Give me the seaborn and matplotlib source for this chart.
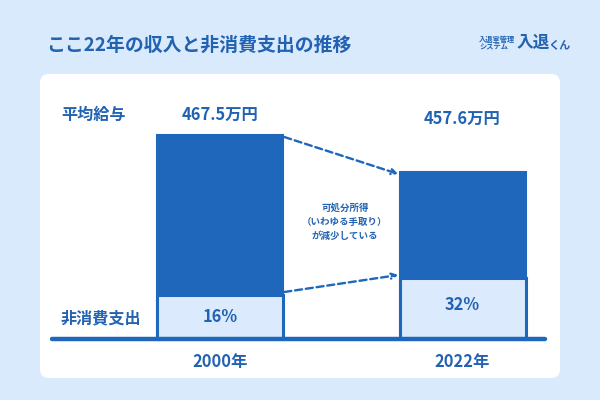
import matplotlib
matplotlib.use("Agg")
import matplotlib.pyplot as plt
from matplotlib.patches import FancyBboxPatch
import seaborn as sns
import pandas as pd

# ---- data ----
years = ["2000年", "2022年"]
avg_salary = [467.5, 457.6]          # 万円
nonconsumption_share = [16, 32]      # %
# illustrated heights as drawn in the picture (arbitrary units)
bar_total_height = [204, 167]
bar_lower_height = [44, 61]
salary_labels = ["467.5万円", "457.6万円"]
share_labels = ["16%", "32%"]
title = "ここ22年の収入と非消費支出の推移"
note = "可処分所得\n（いわゆる手取り）\nが減少している"

BG = "#DAEAFD"
DARK = "#1F67BB"
TEXT = "#2262B2"
LIGHT = "#DBEBFD"

sns.set_theme(style="white")
plt.rcParams["font.family"] = ["Noto Sans CJK JP", "DejaVu Sans"]

fig = plt.figure(figsize=(6, 4), dpi=100, facecolor=BG)

# background / panel in pixel coordinates
bg = fig.add_axes([0, 0, 1, 1])
bg.set_xlim(0, 600)
bg.set_ylim(400, 0)
bg.axis("off")
bg.add_patch(FancyBboxPatch((40, 74), 520, 304,
                            boxstyle="round,pad=0,rounding_size=9",
                            facecolor="white", edgecolor="none", zorder=0))

bg.text(46, 45, title, fontsize=13.6, fontweight="bold", color=TEXT,
        ha="left", va="center")
# logo
bg.text(479, 39.5, "入退室管理", fontsize=5.2, fontweight="bold", color=TEXT,
        ha="left", va="center", style="italic")
bg.text(479, 47, "システム", fontsize=5.2, fontweight="bold", color=TEXT,
        ha="left", va="center", style="italic")
bg.text(517, 43, "入退", fontsize=12, fontweight="bold", color=TEXT,
        ha="left", va="center")
bg.text(548, 46, "くん", fontsize=8, fontweight="bold", color=TEXT,
        ha="left", va="center")

bg.text(61, 115, "平均給与", fontsize=11.6, fontweight="bold", color=TEXT,
        ha="left", va="center")
bg.text(61, 318, "非消費支出", fontsize=11.6, fontweight="bold", color=TEXT,
        ha="left", va="center")

# main data axes
base_px = 339
ax = fig.add_axes([52 / 600, (400 - base_px) / 400, (545 - 52) / 600, (base_px - 74) / 400])
ax.patch.set_alpha(0)

df = pd.DataFrame({"year": years, "total": bar_total_height,
                   "lower": bar_lower_height, "salary": avg_salary,
                   "share": nonconsumption_share})
w = 0.52
sns.barplot(data=df, x="year", y="total", color=DARK, saturation=1,
            width=w, edgecolor=DARK, linewidth=1.5, ax=ax)
sns.barplot(data=df, x="year", y="lower", color=LIGHT, saturation=1,
            width=w, edgecolor=DARK, linewidth=2.2, ax=ax)

ax.set_xlim(-0.693, 1.340)
ax.set_ylim(0, base_px - 74)
ax.axhline(0, color=DARK, lw=3.2, clip_on=False, zorder=5)
for s in ax.spines.values():
    s.set_visible(False)
ax.set_xticks([])
ax.set_yticks([])
ax.set_xlabel("")
ax.set_ylabel("")

# labels
salary_y = [base_px - 115, base_px - 119]
for i in range(2):
    ax.text(i, salary_y[i], salary_labels[i], fontsize=11.8, fontweight="bold",
            color=TEXT, ha="center", va="center")
    ax.text(i, bar_lower_height[i] / 2 + (0 if i == 0 else 3), share_labels[i],
            fontsize=11.8, fontweight="bold", color=TEXT, ha="center", va="center")
    ax.text(i, -23, years[i], fontsize=11.8, fontweight="bold", color=TEXT,
            ha="center", va="center", clip_on=False)

# dashed arrows
arr = dict(arrowstyle="->", linestyle=(0, (3, 1.6)), color=DARK, lw=1.7,
           shrinkA=0, shrinkB=0, mutation_scale=9)
ax.annotate("", xy=(1 - w / 2 - 0.005, bar_total_height[1] - 2),
            xytext=(w / 2 + 0.005, bar_total_height[0] - 2), arrowprops=arr)
ax.annotate("", xy=(1 - w / 2 - 0.005, bar_lower_height[1] + 3),
            xytext=(w / 2 + 0.005, bar_lower_height[0] + 3), arrowprops=arr)

ax.text(0.5 + 0.015, base_px - 222, note, fontsize=6.8, fontweight="bold",
        color=TEXT, ha="center", va="center", linespacing=1.5)

fig.savefig("out.png", dpi=100, facecolor=BG)
